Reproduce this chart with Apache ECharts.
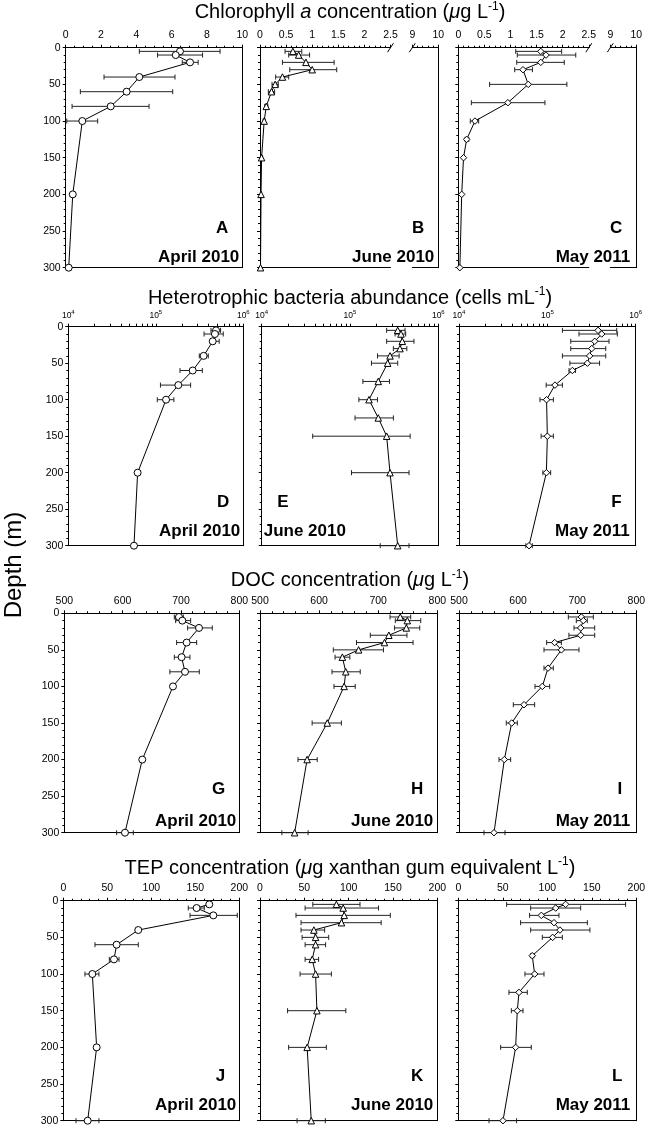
<!DOCTYPE html>
<html>
<head>
<meta charset="utf-8">
<script src="https://cdn.jsdelivr.net/npm/echarts@6/dist/echarts.min.js"></script>
<style>
html, body { margin: 0; padding: 0; background: #fff; }
#chart { width: 648px; height: 1127px; }
</style>
</head>
<body>
<div id="chart"></div>
<script>
// ---- data (depth in m) ----
// Chlorophyll a (ug/L)
var depthChlApr = [5, 10, 20, 40, 60, 80, 100, 200, 300];
var chlApr   = [6.47, 6.23, 7.04, 4.17, 3.45, 2.55, 0.94, 0.40, 0.17];
var chlAprLo = [4.17, 5.2, 6.6, 2.17, 0.83, 0.36, 0.06, null, null];
var chlAprHi = [8.74, 7.75, 7.5, 6.19, 6.06, 4.72, 1.81, null, null];

var depthChlJun = [5, 10, 20, 30, 40, 50, 60, 80, 100, 150, 200, 300];
var chlJun   = [0.63, 0.74, 0.88, 1.0, 0.43, 0.29, 0.22, 0.12, 0.08, 0.03, 0.02, 0.01];
var chlJunLo = [0.48, 0.55, 0.43, 0.57, 0.3, 0.23, 0.16, 0.09, 0.06, 0.01, 0.01, null];
var chlJunHi = [0.8, 0.95, 1.42, 1.47, 0.55, 0.35, 0.28, 0.15, 0.1, 0.05, 0.03, null];

var depthChlMay = [5, 10, 20, 30, 50, 75, 100, 125, 150, 200, 300];
var chlMay   = [1.58, 1.68, 1.58, 1.24, 1.34, 0.95, 0.32, 0.16, 0.1, 0.065, 0.03];
var chlMayLo = [1.1, 1.13, 1.12, 1.08, 0.6, 0.25, 0.23, 0.13, null, null, null];
var chlMayHi = [1.98, 2.25, 2.03, 1.42, 2.08, 1.66, 0.39, 0.2, null, null, null];

// Heterotrophic bacteria (cells/mL)
var depthBacApr = [5, 10, 20, 40, 60, 80, 100, 200, 300];
var bacApr   = [4.88e5, 4.74e5, 4.47e5, 3.52e5, 2.64e5, 1.81e5, 1.31e5, 6.2e4, 5.63e4];
var bacAprLo = [4.27e5, 3.56e5, 4.24e5, 3.14e5, 1.89e5, 1.13e5, 1.04e5, null, null];
var bacAprHi = [5.5e5, 5.9e5, 5.3e5, 3.98e5, 3.4e5, 2.5e5, 1.61e5, null, null];

var depthBacJun = [5, 10, 20, 30, 40, 50, 75, 100, 125, 150, 200, 300];
var bacJun   = [3.47e5, 3.78e5, 3.91e5, 3.68e5, 2.84e5, 2.67e5, 2.09e5, 1.64e5, 2.09e5, 2.6e5, 2.84e5, 3.47e5];
var bacJunLo = [2.6e5, 3.24e5, 2.6e5, 3.1e5, 2.05e5, 1.75e5, 1.4e5, 1.26e5, 1.14e5, 3.78e4, 1.04e5, 2.2e5];
var bacJunHi = [4.2e5, 4.27e5, 5.3e5, 4.4e5, 3.6e5, 3.47e5, 2.8e5, 2.05e5, 3.1e5, 4.8e5, 4.66e5, 4.66e5];

var depthBacMay = [5, 10, 20, 30, 40, 50, 60, 80, 100, 150, 200, 300];
var bacMay   = [3.75e5, 4.12e5, 3.44e5, 3.18e5, 3.01e5, 2.84e5, 1.92e5, 1.22e5, 9.8e4, 1.0e5, 9.75e4, 6.2e4];
var bacMayLo = [1.48e5, 2.28e5, 1.84e5, 1.84e5, 1.48e5, 1.8e5, 1.76e5, 9.7e4, 8.25e4, 8.5e4, 8.9e4, 5.7e4];
var bacMayHi = [6.1e5, 6.2e5, 4.99e5, 4.58e5, 4.58e5, 3.9e5, 2.08e5, 1.48e5, 1.17e5, 1.17e5, 1.09e5, 6.75e4];

// DOC (ug/L)
var depthDocApr = [5, 10, 20, 40, 60, 80, 100, 200, 300];
var docApr   = [696.6, 702.3, 730.9, 709.7, 701.1, 706.9, 686.3, 633.7, 604];
var docAprLo = [688.6, 690.9, 711.4, 692.6, 688.6, 681, null, null, 589.7];
var docAprHi = [704, 716.6, 753.7, 726.9, 715.4, 731.4, null, null, 618.3];

var depthDocJun = [5, 10, 20, 30, 40, 50, 60, 80, 100, 150, 200, 300];
var docJun   = [737.3, 749.3, 747.6, 718, 710.6, 666.8, 639.4, 645.1, 642.3, 613.8, 579.7, 558.6];
var docJunLo = [720, 729, 727.7, 686.7, 663.3, 624, 627, 621.8, 625.2, 588.2, 564.3, 537];
var docJunHi = [755, 772, 770.3, 748.7, 759, 708.9, 652, 669.6, 661.1, 637.7, 596.8, 581.4];

var depthDocMay = [5, 10, 20, 30, 40, 50, 75, 100, 125, 150, 200, 300];
var docMay   = [707, 710.4, 705.9, 705.9, 661.9, 673.2, 650.6, 641, 610, 589.1, 576.7, 559.2];
var docMayLo = [685, 698.5, 694.6, 686, 648.3, 643.8, 643.8, 628.6, 591.9, 580, 567.7, 542.3];
var docMayHi = [727.3, 717.1, 729.6, 729.6, 673.2, 703, 659.6, 653.4, 628, 598.7, 587.4, 577.8];

// TEP (ug xanthan gum eq./L)
var depthTepApr = [5, 10, 20, 40, 60, 80, 100, 200, 300];
var tepApr   = [165.9, 151.5, 170.5, 85.2, 60.6, 57.6, 33, 37.9, 27.7];
var tepAprLo = [163.6, 142, 144, 83.3, 36, 52.3, 24.6, null, 14.4];
var tepAprHi = [168.2, 160.2, 197.7, 87.1, 85.2, 63.3, 40.5, null, 40.5];

var depthTepJun = [5, 10, 20, 30, 40, 50, 60, 80, 100, 150, 200, 300];
var tepJun   = [86.2, 93.8, 95, 91.9, 60.8, 62.7, 62.7, 58.9, 62.7, 64.2, 53.2, 57.8];
var tepJunLo = [59.6, 50.9, 40.6, 46.3, 46.3, 47.5, 50.9, 50.9, 45.2, 31.1, 32.3, 41.8];
var tepJunHi = [112.8, 133.7, 147, 136.7, 72.9, 77.5, 74, 66.1, 80.5, 96.8, 74.8, 73.7];

var depthTepMay = [5, 10, 20, 30, 40, 50, 75, 100, 125, 150, 200, 300];
var tepMay   = [120.6, 109.4, 93.3, 107.5, 114.2, 106, 83.1, 85.8, 68.2, 66.3, 64.4, 50.2];
var tepMayLo = [54.3, 81.3, 80.1, 70, 81.3, 94.4, 81.3, 74.9, 56.9, 59.6, 47.6, 34.5];
var tepMayHi = [188, 137.5, 113.1, 145, 147.9, 116.9, 85, 96.3, 77.5, 72.7, 82, 65.5];

var bacTicks = [1e4, 2e4, 3e4, 4e4, 5e4, 6e4, 7e4, 8e4, 9e4, 1e5, 2e5, 3e5, 4e5, 5e5, 6e5, 7e5, 8e5, 9e5, 1e6];
var bacLabels = [1e4, 1e5, 1e6];
var breakAt = [2.5, 9];

var rowTitles = [
  'Chlorophyll {i|a} concentration ({i|μ}g L{s|-1})',
  'Heterotrophic bacteria abundance (cells mL{s|-1})',
  'DOC concentration ({i|μ}g L{s|-1})',
  'TEP concentration ({i|μ}g xanthan gum equivalent L{s|-1})'
];
var letters = [['A', 'B', 'C'], ['D', 'E', 'F'], ['G', 'H', 'I'], ['J', 'K', 'L']];
var dates = ['April 2010', 'June 2010', 'May 2011'];

// ---- layout ----
var FONT = '"Liberation Sans", Arial, Helvetica, sans-serif';
var rowTop = [47.7, 326.7, 613.3, 900.7];
var rowHeight = [220, 219, 219.4, 220];
var titleY = [12.7, 298, 580.5, 868];
var colLeft = [[65.7, 260, 458.3], [68.3, 261.7, 459], [64.3, 260, 459], [63.3, 260, 458.3]];
var colRight = [[242.3, 438.3, 636.3], [243.3, 438.3, 635.7], [239.3, 437.3, 636.3], [239.3, 437.3, 636.3]];
var letterDy = [39, 43.5, 43.7, 44];
var dateDy = [10.5, 14, 11, 15.7];
var symbols = ['circle', 'triangle', 'diamond'];
var symbolSizes = [7, 6.5, 6.5];

var panels = [
  [
    { kind: 'chl', d: depthChlApr, v: chlApr, lo: chlAprLo, hi: chlAprHi },
    { kind: 'brk', d: depthChlJun, v: chlJun, lo: chlJunLo, hi: chlJunHi },
    { kind: 'brk', d: depthChlMay, v: chlMay, lo: chlMayLo, hi: chlMayHi }
  ],
  [
    { kind: 'bac', d: depthBacApr, v: bacApr, lo: bacAprLo, hi: bacAprHi },
    { kind: 'bac', d: depthBacJun, v: bacJun, lo: bacJunLo, hi: bacJunHi },
    { kind: 'bac', d: depthBacMay, v: bacMay, lo: bacMayLo, hi: bacMayHi }
  ],
  [
    { kind: 'doc', d: depthDocApr, v: docApr, lo: docAprLo, hi: docAprHi },
    { kind: 'doc', d: depthDocJun, v: docJun, lo: docJunLo, hi: docJunHi },
    { kind: 'doc', d: depthDocMay, v: docMay, lo: docMayLo, hi: docMayHi }
  ],
  [
    { kind: 'tep', d: depthTepApr, v: tepApr, lo: tepAprLo, hi: tepAprHi },
    { kind: 'tep', d: depthTepJun, v: tepJun, lo: tepJunLo, hi: tepJunHi },
    { kind: 'tep', d: depthTepMay, v: tepMay, lo: tepMayLo, hi: tepMayHi }
  ]
];

var xKinds = {
  chl:   { type: 'value', min: 0, max: 10, interval: 2, minor: 4 },
  chlLo: { type: 'value', min: 0, max: 2.5, interval: 0.5, minor: 5 },
  chlHi: { type: 'value', min: 9, max: 10, interval: 1, minor: 5 },
  bac:   { type: 'log', min: 1e4, max: 1e6 },
  doc:   { type: 'value', min: 500, max: 800, interval: 100, minor: 5 },
  tep:   { type: 'value', min: 0, max: 200, interval: 50, minor: 5 }
};

var grids = [], xAxes = [], yAxes = [], series = [], graphics = [];
var line = { color: '#000', width: 1 };

function addGrid(left, top, width, height, kind, o) {
  var gi = grids.length;
  grids.push({ left: left, top: top, width: width, height: height, containLabel: false, outerBoundsMode: 'none' });
  var k = xKinds[kind];
  var xi = xAxes.length;
  var topAxis = {
    gridIndex: gi, type: k.type, position: 'top', min: k.min, max: k.max,
    axisLine: { show: true, onZero: false, lineStyle: line },
    axisTick: { show: true, length: 3, lineStyle: line },
    splitLine: { show: false },
    axisLabel: { show: true, margin: 7, color: '#000', fontFamily: FONT, fontSize: 10.5 }
  };
  if (k.type === 'log') {
    topAxis.logBase = 10;
    topAxis.axisTick.customValues = bacTicks;
    topAxis.axisLabel.customValues = bacLabels;
    topAxis.axisLabel.margin = 6;
    topAxis.axisLabel.formatter = function (v) {
      return '{b|10}{s|' + Math.round(Math.log(v) / Math.LN10) + '}';
    };
    topAxis.axisLabel.rich = {
      b: { fontFamily: FONT, fontSize: 8.5, color: '#000', lineHeight: 11 },
      s: { fontFamily: FONT, fontSize: 6, color: '#000', lineHeight: 6, verticalAlign: 'top' }
    };
  } else {
    topAxis.interval = k.interval;
    topAxis.minorTick = { show: true, splitNumber: k.minor, length: 2, lineStyle: line };
  }
  xAxes.push(topAxis);
  xAxes.push({
    gridIndex: gi, type: k.type, position: 'bottom', min: k.min, max: k.max,
    axisLine: { show: true, onZero: false, lineStyle: line },
    axisTick: { show: false }, axisLabel: { show: false }, splitLine: { show: false }
  });
  var yi = yAxes.length;
  yAxes.push({
    gridIndex: gi, type: 'value', inverse: true, min: 0, max: 300, interval: 50,
    position: 'left', show: o.left,
    axisLine: { show: true, onZero: false, lineStyle: line },
    axisTick: { show: true, length: 3, lineStyle: line },
    minorTick: { show: true, splitNumber: 5, length: 2, lineStyle: line },
    splitLine: { show: false },
    axisLabel: { show: o.labels, margin: 5, color: '#000', fontFamily: FONT, fontSize: 10.5 }
  });
  yAxes.push({
    gridIndex: gi, type: 'value', inverse: true, min: 0, max: 300,
    position: 'right', show: o.right,
    axisLine: { show: true, onZero: false, lineStyle: line },
    axisTick: { show: false }, axisLabel: { show: false }, splitLine: { show: false }
  });
  return { x: xi, y: yi };
}

function renderErr(params, api) {
  var d = api.value(1);
  var a = api.coord([api.value(0), d]);
  var b = api.coord([api.value(2), d]);
  var c = 2.5;
  var st = { stroke: '#222', lineWidth: 1 };
  return {
    type: 'group',
    children: [
      { type: 'line', shape: { x1: a[0], y1: a[1], x2: b[0], y2: b[1] }, style: st },
      { type: 'line', shape: { x1: a[0], y1: a[1] - c, x2: a[0], y2: a[1] + c }, style: st },
      { type: 'line', shape: { x1: b[0], y1: b[1] - c, x2: b[0], y2: b[1] + c }, style: st }
    ]
  };
}

function renderSlash(params, api) {
  var p = api.coord([api.value(0), api.value(1)]);
  return {
    type: 'line',
    shape: { x1: p[0] - 3, y1: p[1] + 4.5, x2: p[0] + 3, y2: p[1] - 4.5 },
    style: { stroke: '#000', lineWidth: 1 }
  };
}

function addData(ax, p, col) {
  var errs = [], pts = [];
  for (var i = 0; i < p.d.length; i++) {
    pts.push([p.v[i], p.d[i]]);
    if (p.lo[i] != null) errs.push([p.lo[i], p.d[i], p.hi[i]]);
  }
  series.push({
    type: 'custom', xAxisIndex: ax.x, yAxisIndex: ax.y, renderItem: renderErr,
    encode: { x: [0, 2], y: 1 }, data: errs, clip: false, silent: true, z: 2
  });
  series.push({
    type: 'line', xAxisIndex: ax.x, yAxisIndex: ax.y, data: pts, clip: false, silent: true, z: 3,
    symbol: symbols[col], symbolSize: symbolSizes[col], showSymbol: true,
    lineStyle: { color: '#000', width: 1 },
    itemStyle: { color: '#fff', borderColor: '#000', borderWidth: 1 },
    emphasis: { disabled: true }
  });
}

function addSlash(ax, xv) {
  series.push({
    type: 'custom', xAxisIndex: ax.x, yAxisIndex: ax.y, renderItem: renderSlash,
    data: [[xv, 0]], clip: false, silent: true, z: 4
  });
}

for (var r = 0; r < 4; r++) {
  graphics.push({
    type: 'text', x: 350, y: titleY[r],
    style: {
      text: rowTitles[r], align: 'center', verticalAlign: 'middle', fill: '#000',
      font: '20px ' + FONT, lineHeight: 24,
      rich: {
        i: { font: 'italic 20px ' + FONT, fill: '#000', lineHeight: 24 },
        s: { font: '12px ' + FONT, fill: '#000', lineHeight: 18, verticalAlign: 'top' }
      }
    }
  });
  for (var c = 0; c < 3; c++) {
    var p = panels[r][c];
    var L = colLeft[r][c], R = colRight[r][c], T = rowTop[r], H = rowHeight[r];
    if (p.kind === 'brk') {
      var a1 = addGrid(L, T, 130.5, H, 'chlLo', { left: true, right: false, labels: false });
      var a2 = addGrid(R - 26, T, 26, H, 'chlHi', { left: false, right: true, labels: false });
      addData(a1, p, c);
      addSlash(a1, breakAt[0]);
      addSlash(a2, breakAt[1]);
    } else {
      var ax = addGrid(L, T, R - L, H, p.kind, { left: true, right: true, labels: c === 0 });
      addData(ax, p, c);
    }
    var leftSide = (r === 1 && c === 1);
    var B = T + H;
    graphics.push({
      type: 'text', x: leftSide ? L + 15.5 : R - 14, y: B - letterDy[r],
      style: { text: letters[r][c], font: 'bold 17px ' + FONT, fill: '#000',
               align: leftSide ? 'left' : 'right', verticalAlign: 'middle' }
    });
    graphics.push({
      type: 'text', x: leftSide ? L + 2 : R - [3, 4, 6][c], y: B - dateDy[r],
      style: { text: dates[c], font: 'bold 17px ' + FONT, fill: '#000',
               align: leftSide ? 'left' : 'right', verticalAlign: 'middle' }
    });
  }
}

graphics.push({
  type: 'text', x: 14, y: 565, rotation: Math.PI / 2,
  style: { text: 'Depth (m)', font: '24px ' + FONT, fill: '#000', align: 'center', verticalAlign: 'middle' }
});

var chart = echarts.init(document.getElementById('chart'), null, { renderer: 'canvas' });
chart.setOption({
  backgroundColor: '#fff',
  animation: false,
  grid: grids,
  xAxis: xAxes,
  yAxis: yAxes,
  series: series,
  graphic: { elements: graphics }
});
</script>
</body>
</html>
